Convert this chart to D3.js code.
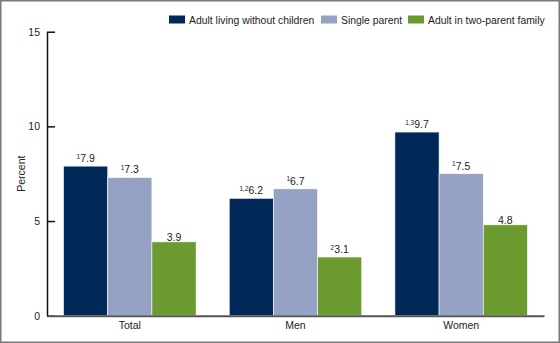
<!DOCTYPE html>
<html>
<head>
<meta charset="utf-8">
<script src="https://cdnjs.cloudflare.com/ajax/libs/d3/7.8.5/d3.min.js"></script>
<style>
  body { margin: 0; background: #fff; }
  text { font-family: "Liberation Sans", Arial, sans-serif; fill: #222; }
</style>
</head>
<body>
<div id="chart"></div>
<script>
'use strict';

// Data ==========================================
var groups = ['Total', 'Men', 'Women'];
var seriesNames = ['Adult living without children', 'Single parent', 'Adult in two-parent family'];
var seriesColors = ['#002859', '#95a2c3', '#6b9a2f'];
var livingWithout = [7.9, 6.2, 9.7];
var singleParent = [7.3, 6.7, 7.5];
var twoParent = [3.9, 3.1, 4.8];
// footnote marks shown before each value
var notesWithout = ['1', '1,2', '1,3'];
var notesSingle = ['1', '1', '1'];
var notesTwo = ['', '2', ''];
var yTicks = [0, 5, 10, 15];

var series = [
  { values: livingWithout, notes: notesWithout },
  { values: singleParent, notes: notesSingle },
  { values: twoParent, notes: notesTwo }
];

//Sizing things. (no "top" here: window.top is read-only)
var width = 560, height = 343;
var plotLeft = 47, plotRight = 544, plotTop = 31.7, plotBottom = 315.7;

var svg = d3.select('#chart').append('svg')
  .attr('width', width)
  .attr('height', height);

// frame round the whole picture
svg.append('rect')
  .attr('x', 0.75).attr('y', 0.75)
  .attr('width', width - 1.5).attr('height', height - 1.5)
  .attr('fill', 'none')
  .attr('stroke', '#7a7a7a')
  .attr('stroke-width', 1.5);

var x0 = d3.scaleBand().domain(groups).range([plotLeft, plotRight]).paddingInner(0.2).paddingOuter(0.1);
var x1 = d3.scaleBand().domain(d3.range(series.length)).range([0, x0.bandwidth()]);
var y = d3.scaleLinear().domain([0, 15]).range([plotBottom, plotTop]);

// bars
series.forEach(function (s, i) {
  var g = svg.append('g');
  g.selectAll('rect')
    .data(s.values)
    .enter().append('rect')
    .attr('x', function (d, j) { return x0(groups[j]) + x1(i); })
    .attr('y', function (d) { return y(d); })
    .attr('width', x1.bandwidth())
    .attr('height', function (d) { return y(0) - y(d); })
    .attr('fill', seriesColors[i])
    .attr('stroke', '#fff')
    .attr('stroke-width', 0.6);

  var lab = g.selectAll('text')
    .data(s.values)
    .enter().append('text')
    .attr('x', function (d, j) { return x0(groups[j]) + x1(i) + x1.bandwidth() / 2; })
    .attr('y', function (d) { return y(d) - 4; })
    .attr('text-anchor', 'middle')
    .style('font-size', '10.5px');

  lab.append('tspan')
    .style('font-size', '6.5px')
    .attr('dy', -3.5)
    .text(function (d, j) { return s.notes[j]; });
  lab.append('tspan')
    .attr('dy', 3.5)
    .text(function (d) { return d.toFixed(1); });
});

// y axis, ticks point inward
var yAxis = svg.append('g')
  .attr('transform', 'translate(' + plotLeft + ',0)')
  .call(d3.axisRight(y).tickValues(yTicks).tickSize(8).tickSizeOuter(0).tickFormat(d3.format('d')));
yAxis.select('.domain').attr('stroke', '#111').attr('stroke-width', 1.5);
yAxis.selectAll('.tick line').attr('stroke', '#111').attr('stroke-width', 1.5);
yAxis.selectAll('.tick text')
  .attr('x', -7)
  .attr('text-anchor', 'end')
  .style('font-size', '10.5px')
  .style('font-family', '"Liberation Sans", Arial, sans-serif')
  .attr('fill', '#222');

// x axis line
var xAxis = svg.append('g')
  .attr('transform', 'translate(0,' + plotBottom + ')')
  .call(d3.axisBottom(x0).tickSize(0).tickSizeOuter(0).tickPadding(6));
xAxis.select('.domain').attr('stroke', '#555').attr('stroke-width', 2);
xAxis.selectAll('.tick text')
  .style('font-size', '10.5px')
  .style('font-family', '"Liberation Sans", Arial, sans-serif')
  .attr('fill', '#222');

svg.append('text')
  .attr('transform', 'translate(25,' + ((plotTop + plotBottom) / 2) + ') rotate(-90)')
  .attr('text-anchor', 'middle')
  .style('font-size', '10.5px')
  .text('Percent');

// legend
var legendX = [169, 321, 408];
var legend = svg.append('g');
seriesNames.forEach(function (name, i) {
  legend.append('rect')
    .attr('x', legendX[i]).attr('y', 15.5)
    .attr('width', 16).attr('height', 8)
    .attr('fill', seriesColors[i]);
  legend.append('text')
    .attr('x', legendX[i] + 20).attr('y', 23.5)
    .style('font-size', '10.4px')
    .text(name);
});
</script>
</body>
</html>
